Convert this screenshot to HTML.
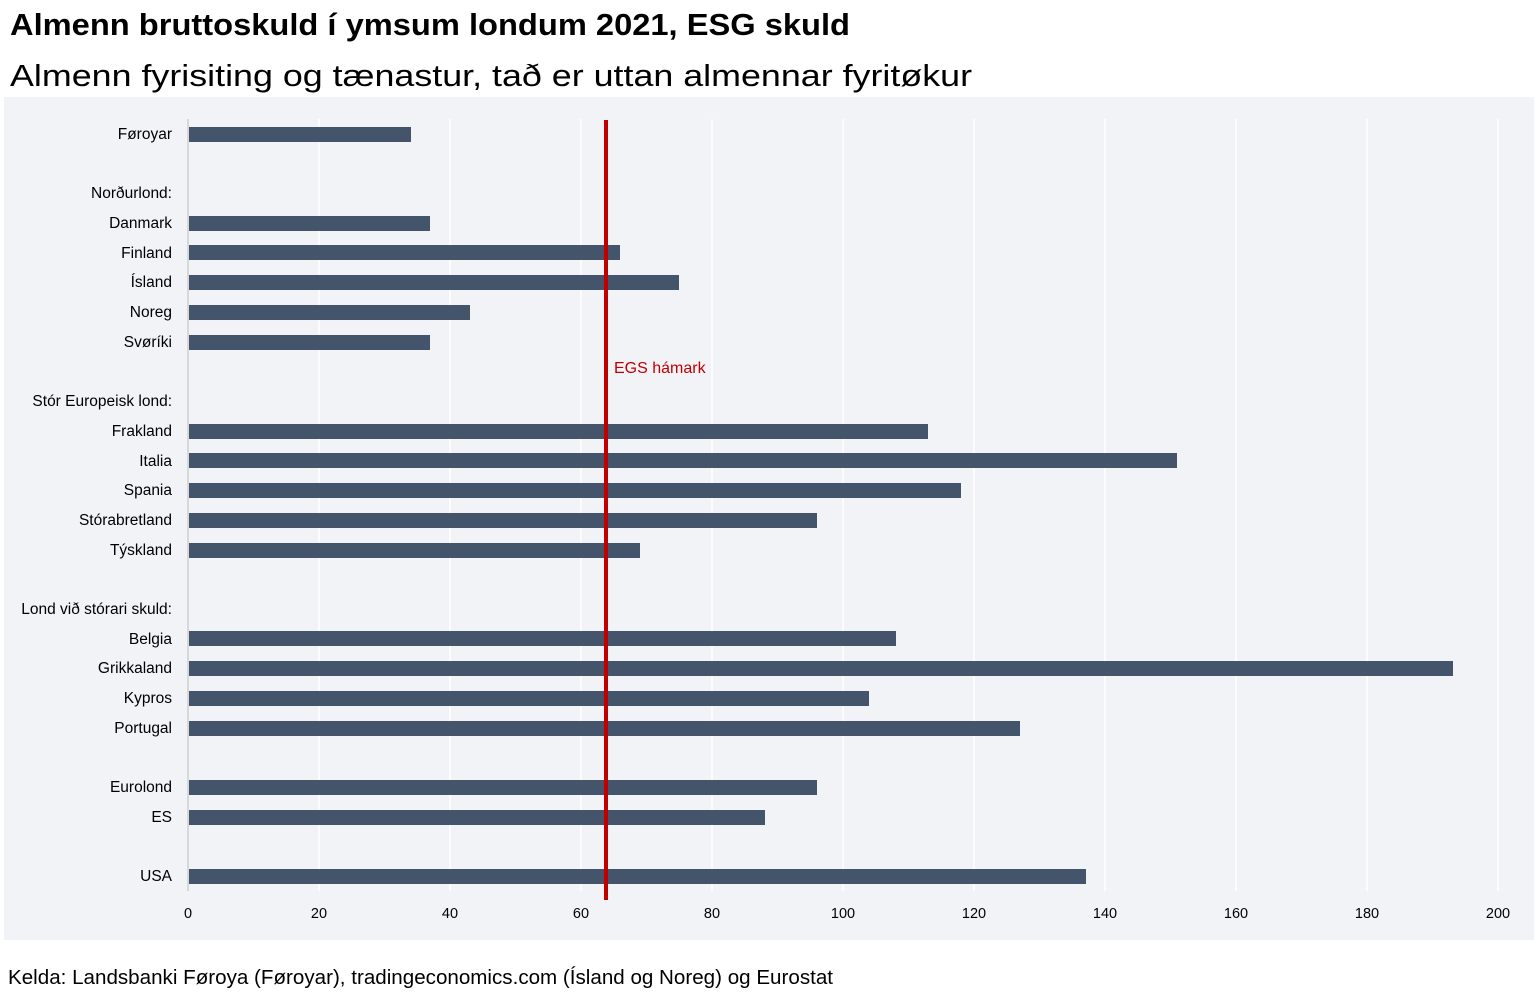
<!DOCTYPE html>
<html><head><meta charset="utf-8"><style>
html,body{margin:0;padding:0;background:#fff}
svg{display:block}
text{font-family:"Liberation Sans",sans-serif}
</style></head><body>
<svg width="1536" height="992" viewBox="0 0 1536 992" xmlns="http://www.w3.org/2000/svg">
<rect width="1536" height="992" fill="#fff"/>
<text x="10" y="35" font-size="31" font-weight="bold" fill="#000" textLength="840" lengthAdjust="spacingAndGlyphs">Almenn bruttoskuld í ymsum londum 2021, ESG skuld</text>
<text x="10" y="86" font-size="31" fill="#000" textLength="962" lengthAdjust="spacingAndGlyphs">Almenn fyrisiting og tænastur, tað er uttan almennar fyritøkur</text>
<rect x="4" y="97" width="1530" height="843" fill="#f2f3f7"/>
<g stroke="#ffffff" stroke-width="1.5">
<line x1="319" y1="119" x2="319" y2="891"/><line x1="450" y1="119" x2="450" y2="891"/>
<line x1="581" y1="119" x2="581" y2="891"/><line x1="712" y1="119" x2="712" y2="891"/>
<line x1="843" y1="119" x2="843" y2="891"/><line x1="974" y1="119" x2="974" y2="891"/>
<line x1="1105" y1="119" x2="1105" y2="891"/><line x1="1236" y1="119" x2="1236" y2="891"/>
<line x1="1367" y1="119" x2="1367" y2="891"/><line x1="1498" y1="119" x2="1498" y2="891"/>
</g>
<line x1="188" y1="119" x2="188" y2="891" stroke="#d0d0d0" stroke-width="1.5"/>
<g fill="#44546a">
<rect x="189" y="127" width="222" height="15"/>
<rect x="189" y="216" width="241" height="15"/>
<rect x="189" y="245" width="431" height="15"/>
<rect x="189" y="275" width="490" height="15"/>
<rect x="189" y="305" width="281" height="15"/>
<rect x="189" y="335" width="241" height="15"/>
<rect x="189" y="424" width="739" height="15"/>
<rect x="189" y="453" width="988" height="15"/>
<rect x="189" y="483" width="772" height="15"/>
<rect x="189" y="513" width="628" height="15"/>
<rect x="189" y="543" width="451" height="15"/>
<rect x="189" y="631" width="707" height="15"/>
<rect x="189" y="661" width="1264" height="15"/>
<rect x="189" y="691" width="680" height="15"/>
<rect x="189" y="721" width="831" height="15"/>
<rect x="189" y="780" width="628" height="15"/>
<rect x="189" y="810" width="576" height="15"/>
<rect x="189" y="869" width="897" height="15"/>
</g>
<rect x="604" y="120" width="4" height="780" fill="#c00000"/>
<text x="614" y="373" font-size="16" fill="#c00000">EGS hámark</text>
<g font-size="15.5" fill="#000" text-anchor="end">
<text x="172" y="139">Føroyar</text>
<text x="172" y="198">Norðurlond:</text>
<text x="172" y="228">Danmark</text>
<text x="172" y="258">Finland</text>
<text x="172" y="287">Ísland</text>
<text x="172" y="317">Noreg</text>
<text x="172" y="347">Svøríki</text>
<text x="172" y="406">Stór Europeisk lond:</text>
<text x="172" y="436">Frakland</text>
<text x="172" y="466">Italia</text>
<text x="172" y="495">Spania</text>
<text x="172" y="525">Stórabretland</text>
<text x="172" y="555">Týskland</text>
<text x="172" y="614">Lond við stórari skuld:</text>
<text x="172" y="644">Belgia</text>
<text x="172" y="673">Grikkaland</text>
<text x="172" y="703">Kypros</text>
<text x="172" y="733">Portugal</text>
<text x="172" y="792">Eurolond</text>
<text x="172" y="822">ES</text>
<text x="172" y="881">USA</text>
</g>
<g font-size="14.5" fill="#000" text-anchor="middle">
<text x="188" y="918">0</text><text x="319" y="918">20</text><text x="450" y="918">40</text>
<text x="581" y="918">60</text><text x="712" y="918">80</text><text x="843" y="918">100</text>
<text x="974" y="918">120</text><text x="1105" y="918">140</text><text x="1236" y="918">160</text>
<text x="1367" y="918">180</text><text x="1498" y="918">200</text>
</g>
<text x="8" y="984" font-size="20" fill="#000" textLength="825" lengthAdjust="spacingAndGlyphs">Kelda: Landsbanki Føroya (Føroyar), tradingeconomics.com (Ísland og Noreg) og Eurostat</text>
</svg>
</body></html>
